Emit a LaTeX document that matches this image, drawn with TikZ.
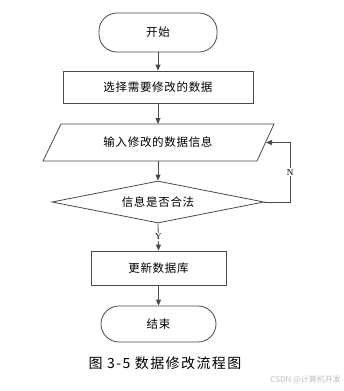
\documentclass[tikz,border=0pt]{standalone}
\usepackage{fontspec}
\setmainfont{Liberation Serif}
\newfontfamily\cjk{Noto Sans CJK SC}
\newfontfamily\cjksp[LetterSpace=6]{Noto Sans CJK SC}
\newfontfamily\cjkcap[LetterSpace=10]{Noto Sans CJK SC}
\usetikzlibrary{shapes.geometric,arrows.meta}
\definecolor{linec}{HTML}{4A4A4A}
\tikzset{
  txt/.style={font=\cjksp\fontsize{11.5}{13}\selectfont, inner sep=0pt},
  base/.style={draw=linec, line width=0.8pt, fill=white, txt},
  term/.style={base, rectangle, rounded corners=18pt},
  proc/.style={base, rectangle},
  dec/.style={base, diamond, aspect=5},
  arr/.style={draw=linec, line width=0.8pt, -{Triangle[length=6pt,width=5pt]}},
  lbl/.style={fill=white, inner sep=1pt, font=\fontsize{9}{10}\selectfont}
}
\begin{document}
\begin{tikzpicture}[x=1pt,y=-1pt]
\useasboundingbox (0,0) rectangle (343,391);
\node[term, minimum width=118pt, minimum height=39pt] (start) at (158,32.5) {开始};
\node[proc, minimum width=190pt, minimum height=32pt] (sel) at (158,87) {选择需要修改的数据};
\draw[base] (61,124) -- (274,124) -- (257,161) -- (43,161) -- cycle;
\node[txt] (inp) at (158,142.5) {输入修改的数据信息};
\coordinate (inpN) at (158,124);
\coordinate (inpS) at (158,161);
\coordinate (inpE) at (266,142.5);
\node[dec, minimum width=212pt, minimum height=42pt] (chk) at (158,202) {信息是否合法};
\node[proc, minimum width=135pt, minimum height=34pt] (upd) at (158.5,268) {更新数据库};
\node[term, minimum width=115pt, minimum height=36pt] (stop) at (158.5,324) {结束};
\coordinate (fbA) at (290,202);
\coordinate (fbB) at (290,142.5);
\draw[arr] (start) -- (sel);
\draw[arr] (sel) -- (inpN);
\draw[arr] (inpS) -- (chk.north);
\draw[arr] (chk.south) -- node[lbl, pos=0.5] (y) {Y} (upd.north);
\draw[arr] (upd) -- (stop);
\draw[arr] (chk.east) -- (fbA) -- node[lbl, pos=0.5] (n) {N} (fbB) -- (inpE);
\node[font=\cjkcap\fontsize{14}{16}\selectfont, inner sep=0pt] (cap) at (165,363) {图 3-5 数据修改流程图};
\node[font=\cjk\fontsize{8}{9}\selectfont, text=black!25, inner sep=0pt, anchor=east] (wm) at (341,380) {CSDN @计算机开发};
\end{tikzpicture}
\end{document}
